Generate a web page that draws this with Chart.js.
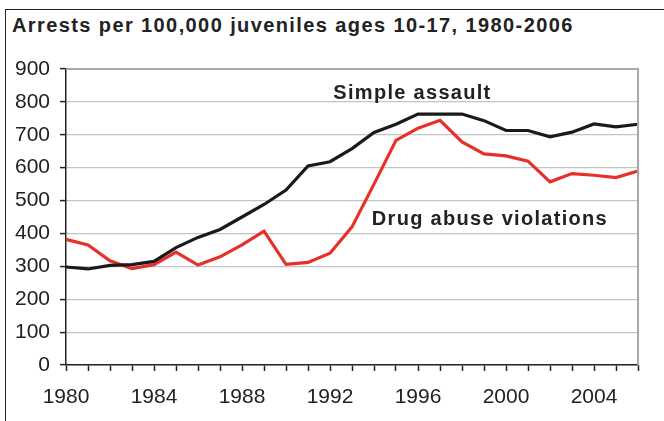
<!DOCTYPE html>
<html>
<head>
<meta charset="utf-8">
<script src="https://cdn.jsdelivr.net/npm/chart.js@4.4.1/dist/chart.umd.min.js"></script>
<style>
  html, body { margin: 0; padding: 0; background: #fff; }
  #wrap { position: relative; width: 664px; height: 421px; overflow: hidden; }
  #frame { position: absolute; left: 5px; top: 9px; width: 700px; height: 500px; border: 1.5px solid #222; }
  #title { position: absolute; left: 12px; top: 14px; line-height: 23px; font: bold 20px "Liberation Sans", Arial, sans-serif; letter-spacing: 1.4px; color: #222; white-space: nowrap; }
  canvas { position: absolute; left: 0; top: 0; }
</style>
</head>
<body>
<div id="wrap">
  <div id="frame"></div>
  <div id="title">Arrests per 100,000 juveniles ages 10-17, 1980-2006</div>
  <canvas id="chart" width="664" height="421"></canvas>
</div>
<script>
// Data
const years = [1980, 1981, 1982, 1983, 1984, 1985, 1986, 1987, 1988, 1989, 1990, 1991, 1992, 1993,
               1994, 1995, 1996, 1997, 1998, 1999, 2000, 2001, 2002, 2003, 2004, 2005, 2006];
const simpleAssault = [298, 292, 303, 305, 315, 357, 388, 412, 450, 488, 532, 605, 618, 658,
                       707, 732, 763, 763, 763, 743, 713, 713, 694, 708, 733, 724, 732];
const drugAbuse = [382, 365, 317, 293, 305, 343, 304, 329, 365, 407, 306, 312, 340, 420,
                   550, 683, 720, 744, 678, 642, 636, 620, 557, 582, 577, 570, 590];
const yTicks = [0, 100, 200, 300, 400, 500, 600, 700, 800, 900];

const tickFont = { family: '"Liberation Sans", Arial, sans-serif', size: 21 };

// Series labels drawn inside the plot, anchored to scale values
const seriesLabels = {
    id: 'seriesLabels',
    afterDatasetsDraw(chart) {
        const { ctx, scales: { x, y }, chartArea } = chart;
        ctx.save();
        // gray frame on top and right side of plot
        ctx.strokeStyle = '#a8a8a8';
        ctx.lineWidth = 2;
        ctx.beginPath();
        ctx.moveTo(chartArea.left, chartArea.top);
        ctx.lineTo(chartArea.right, chartArea.top);
        ctx.lineTo(chartArea.right, chartArea.bottom);
        ctx.stroke();

        ctx.fillStyle = '#222';
        ctx.font = 'bold 20px "Liberation Sans", Arial, sans-serif';
        ctx.letterSpacing = '1.3px';
        ctx.textBaseline = 'middle';
        ctx.textAlign = 'left';
        ctx.fillText('Simple assault', x.getPixelForValue(12.15), y.getPixelForValue(827));
        ctx.fillText('Drug abuse violations', x.getPixelForValue(13.9), y.getPixelForValue(443));
        ctx.restore();
    }
};

new Chart(document.getElementById('chart'), {
    type: 'line',
    data: {
        labels: years,
        datasets: [
            {
                label: 'Simple assault',
                data: simpleAssault,
                borderColor: '#1a1a1a',
                borderWidth: 3.2,
                pointRadius: 0,
                tension: 0,
                fill: false
            },
            {
                label: 'Drug abuse violations',
                data: drugAbuse,
                borderColor: '#e8302a',
                borderWidth: 3.2,
                pointRadius: 0,
                tension: 0,
                fill: false
            }
        ]
    },
    options: {
        responsive: false,
        animation: false,
        layout: { padding: { left: 0, right: 26, top: 69, bottom: 0 } },
        plugins: {
            legend: { display: false },
            title: { display: false },
            tooltip: { enabled: false }
        },
        scales: {
            x: {
                type: 'category',
                offset: false,
                afterFit(scale) { scale.height = 56; },
                grid: { display: true, drawOnChartArea: false, drawTicks: true, tickLength: 6, tickColor: '#222', tickWidth: 1.5 },
                border: { color: '#222', width: 1.5 },
                ticks: {
                    autoSkip: false,
                    maxRotation: 0,
                    padding: 14,
                    color: '#222',
                    font: tickFont,
                    callback: function (value, index) {
                        const yr = years[index];
                        return yr % 4 === 0 ? String(yr) : '';
                    }
                }
            },
            y: {
                min: 0,
                max: 900,
                afterFit(scale) { scale.width = 66; },
                afterBuildTicks(scale) { scale.ticks = yTicks.map(v => ({ value: v })); },
                grid: { color: '#c4c4c4', lineWidth: 1.2, tickLength: 6, tickColor: '#222', tickWidth: 1.5 },
                border: { color: '#222', width: 1.5 },
                ticks: { padding: 10, color: '#222', font: tickFont }
            }
        }
    },
    plugins: [seriesLabels]
});
</script>
</body>
</html>
